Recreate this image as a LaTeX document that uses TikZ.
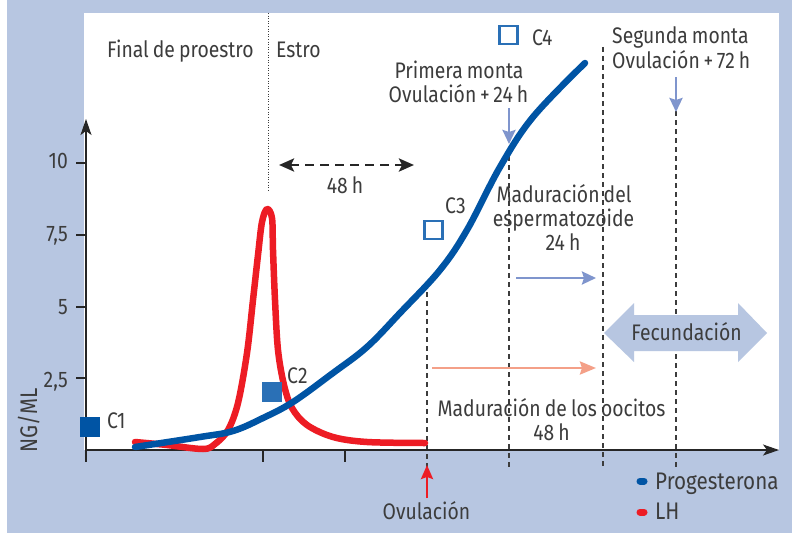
\documentclass[tikz,border=0pt]{standalone}
\usepackage{fontspec}
\setmainfont{Fira Sans}[FakeStretch=0.86, WordSpace=0.8]
\usetikzlibrary{arrows.meta}
\definecolor{bgblue}{RGB}{183,198,225}
\definecolor{progblue}{RGB}{0,84,164}
\definecolor{ctwo}{RGB}{42,112,182}
\definecolor{lhred}{RGB}{237,28,36}
\definecolor{lavender}{RGB}{127,149,205}
\definecolor{salmon}{RGB}{244,160,136}
\definecolor{txtgray}{RGB}{60,60,60}
\begin{document}
\begin{tikzpicture}[x=1pt,y=-1pt,
  lbl/.style={font=\fontsize{22.5}{26}\selectfont, text=txtgray, inner sep=0pt},
  biglbl/.style={font=\fontsize{24}{28}\selectfont, text=txtgray, inner sep=0pt},
  vdash/.style={draw=txtgray, line width=1.3pt, dash pattern=on 5pt off 4pt},
  axisline/.style={draw=black!85, line width=1.3pt},
  axistip/.style={-{Stealth[length=16pt,width=11pt,inset=4pt]}},
  lavarrow/.style={draw=lavender, line width=2.5pt, -{Stealth[length=14pt,width=13pt,inset=2pt]}},
  salarrow/.style={draw=salmon, line width=2.5pt, -{Stealth[length=16pt,width=13pt,inset=2pt]}},
  redarrow/.style={draw=lhred, line width=2.5pt, -{Stealth[length=14pt,width=12pt,inset=2pt]}},
  darrow/.style={draw=black!85, line width=2.8pt, dash pattern=on 9pt off 6pt, {Stealth[length=15pt,width=13pt,inset=3pt]}-{Stealth[length=15pt,width=13pt,inset=3pt]}},
  openbox/.style={draw=ctwo, line width=2.2pt, minimum size=18pt, inner sep=0pt},
  fullbox/.style={minimum size=20pt, inner sep=0pt},
  curve/.style={line width=6.5pt, line cap=round, line join=round},
  pill/.style={line width=7pt, line cap=round}
]
\useasboundingbox (0,0) rectangle (792,535);
% background
\fill[white] (0,0) rectangle (792,535);
\fill[bgblue] (7,0) rectangle (792,533);
\fill[white] (84,13) rectangle (779,450);

% coordinates
\coordinate (origin) at (86,450);
\coordinate (ytop) at (86,119);
\coordinate (xend) at (779,450);
\coordinate (dotT) at (268,13);
\coordinate (dotB) at (268,192);

% dotted separator
\draw[txtgray, line width=0.9pt, dash pattern=on 1pt off 1.6pt] (dotT) -- (dotB);

% dashed verticals
\coordinate (v1t) at (427,283); \coordinate (v1b) at (427,467);
\coordinate (v2t) at (509,147); \coordinate (v2b) at (509,467);
\coordinate (v3t) at (603,47);  \coordinate (v3b) at (603,467);
\coordinate (v4t) at (676,111); \coordinate (v4b) at (676,467);
\draw[vdash] (v1t) -- (v1b);
\draw[vdash] (v2t) -- (v2b);
\draw[vdash] (v3t) -- (v3b);
\draw[vdash] (v4t) -- (v4b);

% axes
\draw[axisline, axistip] (origin) -- (ytop);
\draw[axisline, axistip] (origin) -- (xend);
% y ticks
\foreach \yy/\nm in {163/10,235/75,307/5,378/25}{
  \coordinate (yt\nm a) at (76,\yy); \coordinate (yt\nm b) at (86,\yy);
  \draw[axisline] (yt\nm a) -- (yt\nm b);
}
% x ticks
\foreach \xx/\nm in {86/a,263/b,345/c}{
  \coordinate (xt\nm a) at (\xx,450); \coordinate (xt\nm b) at (\xx,462);
  \draw[axisline] (xt\nm a) -- (xt\nm b);
}
\node[lbl, anchor=base east] (l10) at (68,168) {10};
\node[lbl, anchor=base east] (l75) at (68,241) {7,5};
\node[lbl, anchor=base east] (l5) at (68,314) {5};
\node[lbl, anchor=base east] (l25) at (68,387) {2,5};
\node[biglbl, anchor=base west, rotate=90] (yname) at (37,453) {NG/ML};

% Fecundacion double arrow
\fill[bgblue] (604,333) -- (634,303) -- (634,315) -- (738,315) -- (738,303) -- (767,333)
  -- (738,362) -- (738,351) -- (634,351) -- (634,362) -- cycle;
\node[lbl, anchor=base] (fec) at (686.5,340) {Fecundación};

% horizontal arrows
\coordinate (spA) at (516,278); \coordinate (spB) at (596,278);
\draw[lavarrow] (spA) -- (spB);
\coordinate (ooA) at (432,368); \coordinate (ooB) at (596,368);
\draw[salarrow] (ooA) -- (ooB);
\coordinate (hA) at (279,165); \coordinate (hB) at (414,165);
\draw[darrow] (hA) -- (hB);

% vertical arrows
\coordinate (m1A) at (509,108); \coordinate (m1B) at (509,144);
\draw[lavarrow] (m1A) -- (m1B);
\coordinate (m2A) at (676,77); \coordinate (m2B) at (676,112);
\draw[lavarrow] (m2A) -- (m2B);
\coordinate (ovA) at (427,498); \coordinate (ovB) at (427,465);
\draw[redarrow] (ovA) -- (ovB);

% curves
\draw[curve, lhred] plot[smooth, tension=0.55] coordinates {
 (135,442) (167,445) (203,449) (215,444) (228,430) (238,403) (247,353) (253,300)
 (258,255) (262,222) (267,209) (272,218) (273,250) (275,300) (278,350) (284,385)
 (292,408) (307,425) (333,437) (367,442) (425,443)};
\draw[curve, progblue] plot[smooth, tension=0.6] coordinates {
 (135,447) (200,437) (233,431) (263,418) (293,402) (333,373) (367,347) (400,313)
 (440,270) (467,230) (500,167) (533,117) (585,63)};

% boxes
\node[fullbox, fill=progblue] (c1box) at (89.5,427) {};
\node[fullbox, fill=ctwo] (c2box) at (271.5,392) {};
\node[openbox] (c3box) at (433.5,230) {};
\node[openbox] (c4box) at (508.5,35) {};
\node[lbl, anchor=base west] (c1) at (107,428) {C1};
\node[lbl, anchor=base west] (c2) at (287,383) {C2};
\node[lbl, anchor=base west] (c3) at (445,213) {C3};
\node[lbl, anchor=base west] (c4) at (532,46) {C4};

% texts
\node[lbl, anchor=base west] (proe) at (107,57) {Final de proestro};
\node[lbl, anchor=base west] (estro) at (276,57) {Estro};
\node[lbl, anchor=base] (h48a) at (345,193) {48 h};
\node[lbl, anchor=base] (pm1) at (459,78) {Primera monta};
\node[lbl, anchor=base] (pm2) at (458.5,102) {Ovulación\,+\,24 h};
\node[lbl, anchor=base west] (sm1) at (612,44) {Segunda monta};
\node[lbl, anchor=base west] (sm2) at (612,68) {Ovulación\,+\,72 h};
\node[lbl, anchor=base] (me1) at (564,202) {Maduración del};
\node[lbl, anchor=base] (me2) at (563.5,226) {espermatozoide};
\node[lbl, anchor=base] (me3) at (563,250) {24 h};
\node[lbl, anchor=base] (mo1) at (551.5,416) {Maduración de los oocitos};
\node[lbl, anchor=base] (mo2) at (551.5,440) {48 h};
\node[lbl, anchor=base] (ovl) at (426.5,519) {Ovulación};

% legend
\coordinate (lg1a) at (640,481); \coordinate (lg1b) at (644,481);
\draw[pill, progblue] (lg1a) -- (lg1b);
\coordinate (lg2a) at (640,512); \coordinate (lg2b) at (644,512);
\draw[pill, lhred] (lg2a) -- (lg2b);
\node[biglbl, anchor=base west] (lgp) at (655,489) {Progesterona};
\node[biglbl, anchor=base west] (lgl) at (655,519) {LH};
\end{tikzpicture}
\end{document}
